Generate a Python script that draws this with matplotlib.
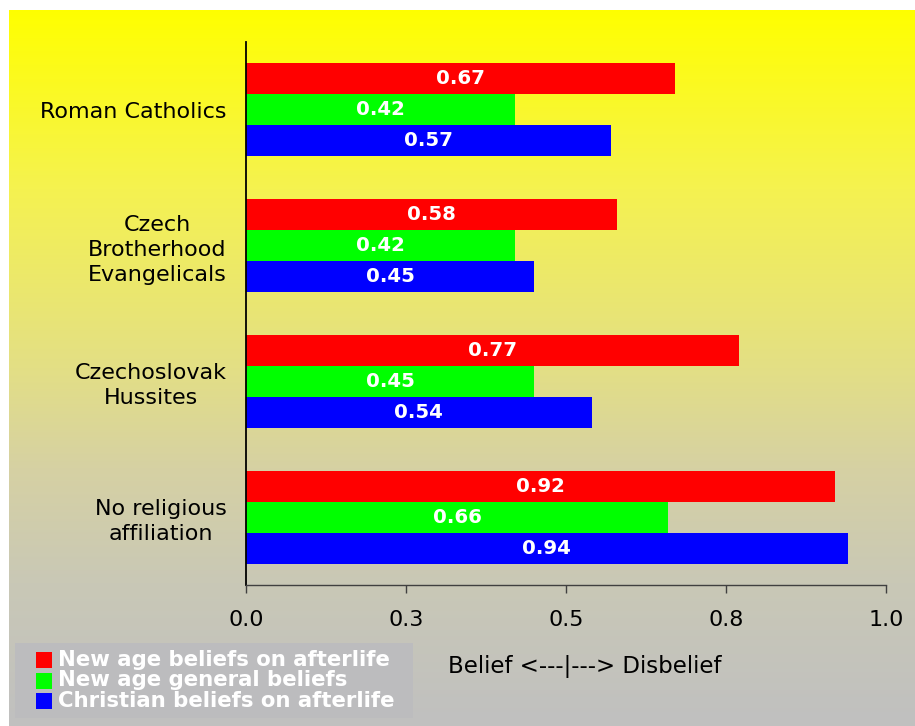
import matplotlib
matplotlib.use("Agg")
import matplotlib.pyplot as plt
import numpy as np
from matplotlib.colors import LinearSegmentedColormap
from matplotlib.patches import Rectangle

# Data
categories = ["Roman Catholics", "Czech\nBrotherhood\nEvangelicals",
              "Czechoslovak\nHussites", "No religious\naffiliation"]
series_names = ["New age beliefs on afterlife", "New age general beliefs",
                "Christian beliefs on afterlife"]
new_age_afterlife = [0.67, 0.58, 0.77, 0.92]
new_age_general = [0.42, 0.42, 0.45, 0.66]
christian_afterlife = [0.57, 0.45, 0.54, 0.94]
series_values = [new_age_afterlife, new_age_general, christian_afterlife]
series_colors = ["#ff0000", "#00ff00", "#0000ff"]
x_ticks = [0.0, 0.25, 0.5, 0.75, 1.0]
x_tick_labels = ["0.0", "0.3", "0.5", "0.8", "1.0"]
axis_caption = "Belief <---|---> Disbelief"

W, H = 915, 726
fig = plt.figure(figsize=(W / 100, H / 100), dpi=100)
fig.patch.set_facecolor("white")

# Vertical yellow-to-gray gradient backdrop
stops = [(0.0, (255, 255, 0)), (0.25, (245, 242, 80)), (0.5, (227, 223, 133)),
         (0.64, (214, 209, 163)), (0.8, (201, 200, 182)), (1.0, (192, 192, 192))]
cmap = LinearSegmentedColormap.from_list(
    "bg", [(p, tuple(c / 255 for c in rgb)) for p, rgb in stops], N=2048)
bg = fig.add_axes([9 / W, 0, 1 - 9 / W, (H - 10) / H], zorder=0)
bg.imshow(np.linspace(0, 1, 2048).reshape(-1, 1), aspect="auto", cmap=cmap,
          extent=[0, 1, 1, 0], interpolation="bilinear")
bg.set_axis_off()

# Main bar chart
ax = fig.add_axes([246 / W, (H - 585) / H, (886 - 246) / W, (585 - 42) / H], zorder=1)
ax.patch.set_alpha(0)
n = len(categories)
centers = np.arange(n)[::-1].astype(float)
bar_h = 0.2284
offsets = [bar_h, 0.0, -bar_h]
for vals, col, off in zip(series_values, series_colors, offsets):
    bars = ax.barh(centers + off, vals, height=bar_h, color=col, edgecolor="none")
    for b, v in zip(bars, vals):
        ax.text(b.get_width() / 2, b.get_y() + b.get_height() / 2, f"{v:.2f}",
                ha="center", va="center", color="white", fontsize=14.2,
                fontweight="bold")

ax.set_xlim(0, 1)
ax.set_ylim(-0.5, n - 0.5)
ax.set_xticks(x_ticks)
ax.set_xticklabels(x_tick_labels, fontsize=16)
ax.set_yticks(centers)
ax.set_yticklabels(categories, fontsize=16, linespacing=1.3)
for t in ax.get_yticklabels():
    t.set_multialignment("center")
ax.tick_params(axis="y", length=0, pad=14)
ax.tick_params(axis="x", length=6, width=1, color="#404040", pad=12, direction="out")
for s in ["top", "right"]:
    ax.spines[s].set_visible(False)
ax.spines["left"].set_color("black")
ax.spines["left"].set_linewidth(1.3)
ax.spines["bottom"].set_color("#404040")
ax.spines["bottom"].set_linewidth(1.0)

# Legend panel
fig.patches.append(Rectangle((15 / W, (H - 718) / H), (413 - 15) / W, (718 - 643) / H,
                             transform=fig.transFigure, facecolor="#bcbcbe",
                             edgecolor="none", zorder=2))
row_y = [659.5, 680.5, 701]
for name, col, yy in zip(series_names, series_colors, row_y):
    fig.patches.append(Rectangle((36 / W, (H - yy - 8) / H), 16 / W, 16 / H,
                                 transform=fig.transFigure, facecolor=col,
                                 edgecolor="none", zorder=3))
    fig.text(58 / W, (H - yy) / H, name, ha="left", va="center", color="white",
             fontsize=15.3, fontweight="bold", zorder=4)

fig.text(448 / W, (H - 666) / H, axis_caption, ha="left", va="center",
         color="black", fontsize=16.5)

fig.savefig("out.png", dpi=100)
